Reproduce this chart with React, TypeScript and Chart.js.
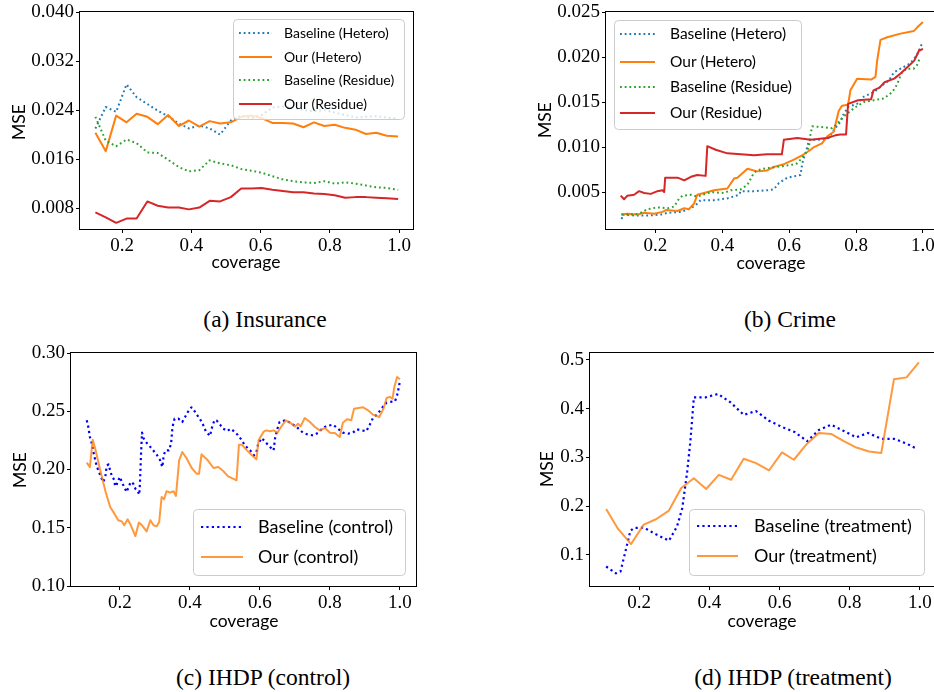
import React, { useEffect, useRef } from 'react';
import { Chart, registerables } from 'chart.js';
Chart.register(...registerables);

// ---------------- (a) Insurance ----------------
const aCoverage = [0.123, 0.153, 0.183, 0.213, 0.242, 0.273, 0.303, 0.333, 0.364, 0.393, 0.423, 0.453, 0.483, 0.514, 0.544, 0.573, 0.603, 0.634, 0.664, 0.694, 0.724, 0.754, 0.784, 0.814, 0.844, 0.874, 0.904, 0.934, 0.964, 0.997];
const aBaselineHetero = [0.0210, 0.0245, 0.0237, 0.0282, 0.0261, 0.0250, 0.0239, 0.0230, 0.0218, 0.0210, 0.0215, 0.0210, 0.0200, 0.0223, 0.0231, 0.0227, 0.0232, 0.0244, 0.0246, 0.0244, 0.0240, 0.0238, 0.0240, 0.0236, 0.0232, 0.0228, 0.0229, 0.0230, 0.0228, 0.0226];
const aOurHetero = [0.0203, 0.0173, 0.0231, 0.0220, 0.0234, 0.0229, 0.0217, 0.0232, 0.0214, 0.0223, 0.0213, 0.0222, 0.0218, 0.0220, 0.0229, 0.0231, 0.0227, 0.0219, 0.0219, 0.0218, 0.0212, 0.0220, 0.0214, 0.0216, 0.0211, 0.0208, 0.0201, 0.0203, 0.0198, 0.0197];
const aBaselineResidue = [0.0229, 0.0190, 0.0181, 0.0192, 0.0186, 0.0171, 0.0170, 0.0159, 0.0147, 0.0140, 0.0142, 0.0158, 0.0153, 0.0150, 0.0144, 0.0141, 0.0138, 0.0132, 0.0127, 0.0124, 0.0122, 0.0121, 0.0124, 0.0120, 0.0122, 0.0120, 0.0117, 0.0114, 0.0113, 0.0110];
const aOurResidue = [0.0073, 0.0065, 0.0056, 0.0063, 0.0063, 0.0091, 0.0084, 0.0081, 0.0081, 0.0078, 0.0081, 0.0092, 0.0091, 0.0098, 0.0112, 0.0112, 0.0113, 0.0110, 0.0108, 0.0106, 0.0106, 0.0104, 0.0103, 0.0101, 0.0097, 0.0098, 0.0098, 0.0097, 0.0096, 0.0095];
const aYTicks = [0.008, 0.016, 0.024, 0.032, 0.040];

// ---------------- (b) Crime ----------------
const bBaselineHeteroX = [0.099, 0.102, 0.136, 0.176, 0.216, 0.236, 0.276, 0.305, 0.325, 0.335, 0.375, 0.415, 0.450, 0.455, 0.495, 0.534, 0.554, 0.569, 0.594, 0.634, 0.639, 0.654, 0.659, 0.684, 0.718, 0.738, 0.753, 0.763, 0.778, 0.803, 0.823, 0.853, 0.873, 0.898, 0.913, 0.933, 0.962, 0.982, 0.997];
const bBaselineHeteroY = [0.0020, 0.0025, 0.0024, 0.0024, 0.0025, 0.0027, 0.0028, 0.0032, 0.0037, 0.0041, 0.0041, 0.0043, 0.0047, 0.0051, 0.0051, 0.0052, 0.0053, 0.0060, 0.0066, 0.0069, 0.0082, 0.0100, 0.0108, 0.0108, 0.0110, 0.0121, 0.0128, 0.0137, 0.0145, 0.0148, 0.0156, 0.0161, 0.0167, 0.0174, 0.0183, 0.0187, 0.0193, 0.0202, 0.0215];
const bOurHeteroX = [0.097, 0.116, 0.146, 0.166, 0.196, 0.221, 0.231, 0.266, 0.286, 0.300, 0.315, 0.325, 0.345, 0.375, 0.415, 0.435, 0.445, 0.475, 0.504, 0.534, 0.554, 0.584, 0.614, 0.644, 0.664, 0.674, 0.698, 0.714, 0.733, 0.748, 0.758, 0.776, 0.783, 0.803, 0.845, 0.858, 0.863, 0.873, 0.893, 0.933, 0.973, 0.983, 1.000];
const bOurHeteroY = [0.0025, 0.0026, 0.0025, 0.0027, 0.0026, 0.0028, 0.0030, 0.0029, 0.0032, 0.0031, 0.0037, 0.0047, 0.0049, 0.0052, 0.0054, 0.0065, 0.0066, 0.0076, 0.0073, 0.0074, 0.0078, 0.0081, 0.0086, 0.0092, 0.0097, 0.0100, 0.0104, 0.0112, 0.0117, 0.0140, 0.0146, 0.0147, 0.0163, 0.0176, 0.0175, 0.0178, 0.0196, 0.0219, 0.0222, 0.0226, 0.0229, 0.0233, 0.0239];
const bBaselineResidueX = [0.099, 0.136, 0.156, 0.176, 0.206, 0.236, 0.256, 0.271, 0.281, 0.305, 0.325, 0.365, 0.405, 0.425, 0.455, 0.475, 0.485, 0.494, 0.504, 0.524, 0.564, 0.604, 0.624, 0.634, 0.649, 0.659, 0.664, 0.669, 0.703, 0.728, 0.738, 0.763, 0.793, 0.823, 0.853, 0.883, 0.908, 0.922, 0.937, 0.952, 0.972, 0.982, 0.992];
const bBaselineResidueY = [0.0025, 0.0025, 0.0027, 0.0031, 0.0033, 0.0032, 0.0034, 0.0043, 0.0046, 0.0047, 0.0045, 0.0050, 0.0049, 0.0052, 0.0053, 0.0058, 0.0065, 0.0071, 0.0074, 0.0076, 0.0078, 0.0080, 0.0082, 0.0086, 0.0093, 0.0100, 0.0115, 0.0123, 0.0122, 0.0121, 0.0124, 0.0134, 0.0143, 0.0150, 0.0152, 0.0154, 0.0161, 0.0169, 0.0183, 0.0187, 0.0187, 0.0191, 0.0200];
const bOurResidueX = [0.096, 0.106, 0.116, 0.136, 0.151, 0.166, 0.186, 0.206, 0.221, 0.226, 0.229, 0.266, 0.286, 0.306, 0.325, 0.350, 0.355, 0.380, 0.415, 0.455, 0.495, 0.534, 0.578, 0.584, 0.624, 0.664, 0.713, 0.738, 0.753, 0.770, 0.776, 0.806, 0.845, 0.852, 0.870, 0.885, 0.914, 0.934, 0.954, 0.974, 0.988, 1.000];
const bOurResidueY = [0.0046, 0.0042, 0.0046, 0.0047, 0.0051, 0.0049, 0.0048, 0.0051, 0.0052, 0.0050, 0.0066, 0.0066, 0.0063, 0.0067, 0.0069, 0.0068, 0.0101, 0.0097, 0.0093, 0.0092, 0.0091, 0.0092, 0.0092, 0.0108, 0.0110, 0.0108, 0.0110, 0.0113, 0.0114, 0.0114, 0.0148, 0.0152, 0.0153, 0.0163, 0.0166, 0.0172, 0.0176, 0.0182, 0.0189, 0.0196, 0.0207, 0.0209];
const bYTicks = [0.005, 0.010, 0.015, 0.020, 0.025];

// ---------------- (c) IHDP (control) ----------------
const cBaselineX = [0.105, 0.109, 0.114, 0.119, 0.126, 0.133, 0.138, 0.145, 0.152, 0.158, 0.162, 0.167, 0.172, 0.176, 0.184, 0.186, 0.190, 0.195, 0.200, 0.205, 0.212, 0.219, 0.225, 0.231, 0.238, 0.244, 0.250, 0.255, 0.257, 0.260, 0.263, 0.267, 0.276, 0.291, 0.305, 0.314, 0.321, 0.325, 0.330, 0.340, 0.346, 0.350, 0.356, 0.367, 0.378, 0.386, 0.394, 0.404, 0.415, 0.424, 0.434, 0.445, 0.457, 0.464, 0.470, 0.476, 0.486, 0.495, 0.507, 0.516, 0.526, 0.536, 0.547, 0.557, 0.572, 0.583, 0.590, 0.595, 0.605, 0.620, 0.629, 0.639, 0.643, 0.650, 0.656, 0.672, 0.686, 0.705, 0.723, 0.738, 0.753, 0.767, 0.776, 0.790, 0.809, 0.823, 0.837, 0.852, 0.866, 0.876, 0.890, 0.904, 0.914, 0.923, 0.937, 0.947, 0.962, 0.971, 0.986, 0.992, 0.997, 1.000];
const cBaselineY = [0.2422, 0.2373, 0.2279, 0.2227, 0.2122, 0.2036, 0.1993, 0.1941, 0.1893, 0.1936, 0.2030, 0.2044, 0.1993, 0.1950, 0.1907, 0.1856, 0.1865, 0.1907, 0.1936, 0.1893, 0.1850, 0.1807, 0.1853, 0.1893, 0.1878, 0.1835, 0.1821, 0.1784, 0.1878, 0.2122, 0.2316, 0.2270, 0.2230, 0.2179, 0.2127, 0.2084, 0.2021, 0.2122, 0.2164, 0.2164, 0.2222, 0.2365, 0.2436, 0.2436, 0.2408, 0.2451, 0.2494, 0.2534, 0.2494, 0.2451, 0.2408, 0.2330, 0.2288, 0.2373, 0.2422, 0.2422, 0.2385, 0.2350, 0.2330, 0.2350, 0.2328, 0.2299, 0.2256, 0.2207, 0.2164, 0.2122, 0.2150, 0.2222, 0.2270, 0.2222, 0.2193, 0.2164, 0.2265, 0.2350, 0.2408, 0.2422, 0.2402, 0.2365, 0.2316, 0.2299, 0.2293, 0.2316, 0.2345, 0.2373, 0.2385, 0.2350, 0.2316, 0.2308, 0.2316, 0.2345, 0.2336, 0.2328, 0.2385, 0.2442, 0.2479, 0.2522, 0.2574, 0.2580, 0.2585, 0.2637, 0.2708, 0.2757];
const cOurX = [0.105, 0.114, 0.122, 0.128, 0.138, 0.147, 0.159, 0.172, 0.184, 0.195, 0.205, 0.212, 0.222, 0.231, 0.244, 0.254, 0.263, 0.276, 0.287, 0.296, 0.305, 0.312, 0.319, 0.326, 0.333, 0.343, 0.353, 0.360, 0.369, 0.378, 0.391, 0.405, 0.419, 0.426, 0.433, 0.451, 0.467, 0.481, 0.495, 0.509, 0.523, 0.533, 0.540, 0.548, 0.563, 0.577, 0.590, 0.596, 0.610, 0.618, 0.629, 0.639, 0.650, 0.662, 0.674, 0.686, 0.700, 0.709, 0.716, 0.728, 0.743, 0.757, 0.771, 0.786, 0.800, 0.814, 0.828, 0.837, 0.849, 0.861, 0.869, 0.881, 0.895, 0.909, 0.923, 0.941, 0.953, 0.962, 0.971, 0.979, 0.984, 0.992, 1.000];
const cOurY = [0.2059, 0.2021, 0.2256, 0.2193, 0.2064, 0.1950, 0.1807, 0.1678, 0.1621, 0.1564, 0.1555, 0.1521, 0.1572, 0.1521, 0.1429, 0.1544, 0.1521, 0.1469, 0.1564, 0.1521, 0.1512, 0.1549, 0.1764, 0.1744, 0.1813, 0.1801, 0.1813, 0.1773, 0.2079, 0.2150, 0.2093, 0.2013, 0.1964, 0.1964, 0.2130, 0.2079, 0.2013, 0.2021, 0.1987, 0.1941, 0.1921, 0.1907, 0.2213, 0.2213, 0.2164, 0.2122, 0.2087, 0.2250, 0.2322, 0.2336, 0.2328, 0.2336, 0.2316, 0.2373, 0.2422, 0.2402, 0.2370, 0.2393, 0.2370, 0.2442, 0.2408, 0.2365, 0.2336, 0.2356, 0.2316, 0.2313, 0.2279, 0.2402, 0.2431, 0.2422, 0.2522, 0.2528, 0.2534, 0.2508, 0.2471, 0.2451, 0.2522, 0.2614, 0.2623, 0.2608, 0.2708, 0.2794, 0.2774];
const cYTicks = [0.10, 0.15, 0.20, 0.25, 0.30];

// ---------------- (d) IHDP (treatment) ----------------
const dBaselineX = [0.106, 0.134, 0.147, 0.161, 0.175, 0.185, 0.213, 0.248, 0.285, 0.308, 0.323, 0.337, 0.346, 0.356, 0.389, 0.425, 0.460, 0.498, 0.533, 0.570, 0.608, 0.643, 0.679, 0.712, 0.747, 0.783, 0.819, 0.852, 0.890, 0.926, 0.959, 0.990];
const dBaselineY = [0.076, 0.062, 0.066, 0.107, 0.149, 0.155, 0.156, 0.142, 0.129, 0.158, 0.196, 0.271, 0.333, 0.423, 0.423, 0.430, 0.413, 0.387, 0.395, 0.375, 0.362, 0.352, 0.333, 0.356, 0.367, 0.354, 0.341, 0.350, 0.338, 0.338, 0.329, 0.318];
const dOurX = [0.106, 0.140, 0.177, 0.213, 0.248, 0.284, 0.320, 0.356, 0.391, 0.427, 0.462, 0.498, 0.533, 0.570, 0.607, 0.641, 0.677, 0.712, 0.747, 0.783, 0.819, 0.855, 0.890, 0.926, 0.962, 0.997];
const dOurY = [0.194, 0.153, 0.122, 0.162, 0.173, 0.190, 0.237, 0.257, 0.235, 0.264, 0.254, 0.297, 0.288, 0.273, 0.310, 0.295, 0.327, 0.350, 0.348, 0.333, 0.320, 0.312, 0.309, 0.460, 0.464, 0.495];
const dYTicks = [0.1, 0.2, 0.3, 0.4, 0.5];

const xTicks = [0.2, 0.4, 0.6, 0.8, 1.0];

const SANS = 'Lato, "DejaVu Sans", sans-serif';
const SERIF = '"Liberation Serif", "DejaVu Serif", serif';

const TAB_BLUE = '#1f77b4';
const TAB_ORANGE = '#ff7f0e';
const TAB_GREEN = '#2ca02c';
const TAB_RED = '#d62728';
const PURE_BLUE = '#0000ff';
const SOFT_ORANGE = 'rgba(255,127,14,0.8)';

const DOT_S = [1.8, 2.9];
const DOT_L = [2.2, 3.2];

const panels = [
  {
    key: 'a',
    frame: { left: 0, top: 0, width: 430, height: 285 },
    area: { l: 80, t: 12, r: 413, b: 229 },
    x: [0.0786, 1.04], y: [0.0046, 0.040], yTicks: aYTicks, yDec: 3,
    series: [
      { label: 'Baseline (Hetero)', xs: aCoverage, ys: aBaselineHetero, color: TAB_BLUE, width: 2, dash: DOT_S },
      { label: 'Our (Hetero)', xs: aCoverage, ys: aOurHetero, color: TAB_ORANGE, width: 2, dash: [] },
      { label: 'Baseline (Residue)', xs: aCoverage, ys: aBaselineResidue, color: TAB_GREEN, width: 2, dash: DOT_S },
      { label: 'Our (Residue)', xs: aCoverage, ys: aOurResidue, color: TAB_RED, width: 2, dash: [] },
    ],
    legend: { box: [233, 19, 404, 119], ys: [33, 57, 80, 104], h: [239, 272], tx: 284, size: 14 },
    yTitle: [19, 122], xTitle: [246, 262], titleSize: 17.5,
  },
  {
    key: 'b',
    frame: { left: 526, top: 0, width: 420, height: 285 },
    area: { l: 606, t: 12, r: 938, b: 229 },
    x: [0.052, 1.045], y: [0.0009, 0.0250], yTicks: bYTicks, yDec: 3,
    series: [
      { label: 'Baseline (Hetero)', xs: bBaselineHeteroX, ys: bBaselineHeteroY, color: TAB_BLUE, width: 2, dash: DOT_S },
      { label: 'Our (Hetero)', xs: bOurHeteroX, ys: bOurHeteroY, color: TAB_ORANGE, width: 2, dash: [] },
      { label: 'Baseline (Residue)', xs: bBaselineResidueX, ys: bBaselineResidueY, color: TAB_GREEN, width: 2, dash: DOT_S },
      { label: 'Our (Residue)', xs: bOurResidueX, ys: bOurResidueY, color: TAB_RED, width: 2, dash: [] },
    ],
    legend: { box: [614, 20, 801, 129], ys: [34, 62, 87, 113], h: [620, 655], tx: 670, size: 15.5 },
    yTitle: [545, 120], xTitle: [771, 263], titleSize: 17.5,
  },
  {
    key: 'c',
    frame: { left: 0, top: 340, width: 430, height: 300 },
    area: { l: 71, t: 353, r: 416, b: 586 },
    x: [0.06, 1.046], y: [0.10, 0.30], yTicks: cYTicks, yDec: 2,
    series: [
      { label: 'Baseline (control)', xs: cBaselineX, ys: cBaselineY, color: PURE_BLUE, width: 2.2, dash: DOT_L },
      { label: 'Our (control)', xs: cOurX, ys: cOurY, color: SOFT_ORANGE, width: 2, dash: [] },
    ],
    legend: { box: [193, 509, 405, 575], ys: [527, 557], h: [201, 243], tx: 258, size: 18 },
    yTitle: [20, 470], xTitle: [244, 621], titleSize: 17.5,
  },
  {
    key: 'd',
    frame: { left: 526, top: 340, width: 420, height: 300 },
    area: { l: 590, t: 353, r: 935, b: 586 },
    x: [0.06, 1.043], y: [0.036, 0.514], yTicks: dYTicks, yDec: 1,
    series: [
      { label: 'Baseline (treatment)', xs: dBaselineX, ys: dBaselineY, color: PURE_BLUE, width: 2.2, dash: DOT_L },
      { label: 'Our (treatment)', xs: dOurX, ys: dOurY, color: SOFT_ORANGE, width: 2, dash: [] },
    ],
    legend: { box: [689, 509, 924, 575], ys: [526, 556], h: [697, 738], tx: 754, size: 18 },
    yTitle: [547, 469], xTitle: [762, 621], titleSize: 17.5,
  },
];

const captions = [
  { text: '(a) Insurance', cx: 265, cy: 319 },
  { text: '(b) Crime', cx: 790, cy: 319 },
  { text: '(c) IHDP (control)', cx: 263, cy: 677 },
  { text: '(d) IHDP (treatment)', cx: 793, cy: 677 },
];

function decorPlugin(cfg: any) {
  return {
    id: 'decor_' + cfg.key,
    afterDatasetsDraw(chart: any) {
      const ctx = chart.ctx;
      const ox = cfg.frame.left;
      const oy = cfg.frame.top;
      const ca = chart.chartArea;
      ctx.save();
      // legend
      const L = cfg.legend;
      const bx = L.box[0] - ox + 0.5, by = L.box[1] - oy + 0.5;
      const bw = L.box[2] - L.box[0], bh = L.box[3] - L.box[1];
      ctx.beginPath();
      if (ctx.roundRect) ctx.roundRect(bx, by, bw, bh, 4);
      else ctx.rect(bx, by, bw, bh);
      ctx.fillStyle = 'rgba(255,255,255,0.8)';
      ctx.fill();
      ctx.strokeStyle = '#cccccc';
      ctx.lineWidth = 1;
      ctx.stroke();
      cfg.series.forEach((s: any, i: number) => {
        const yy = L.ys[i] - oy;
        ctx.beginPath();
        ctx.setLineDash(s.dash);
        ctx.strokeStyle = s.color;
        ctx.lineWidth = s.width;
        ctx.lineCap = 'butt';
        ctx.moveTo(L.h[0] - ox, yy);
        ctx.lineTo(L.h[1] - ox, yy);
        ctx.stroke();
        ctx.setLineDash([]);
        ctx.fillStyle = '#000';
        ctx.font = `${L.size}px ${SANS}`;
        ctx.textAlign = 'left';
        ctx.textBaseline = 'middle';
        ctx.fillText(s.label, L.tx - ox, yy);
      });
      // frame (spines)
      ctx.setLineDash([]);
      ctx.strokeStyle = '#000';
      ctx.lineWidth = 1;
      const l = Math.round(ca.left) - 0.5, t = Math.round(ca.top) - 0.5;
      const r = Math.round(ca.right) + 0.5, b = Math.round(ca.bottom) + 0.5;
      ctx.strokeRect(l, t, r - l, b - t);
      // axis titles
      ctx.fillStyle = '#000';
      ctx.font = `${cfg.titleSize}px ${SANS}`;
      ctx.textAlign = 'center';
      ctx.textBaseline = 'middle';
      ctx.fillText('coverage', cfg.xTitle[0] - ox, cfg.xTitle[1] - oy);
      ctx.translate(cfg.yTitle[0] - ox, cfg.yTitle[1] - oy);
      ctx.rotate(-Math.PI / 2);
      ctx.fillText('MSE', 0, 0);
      ctx.restore();
    },
  };
}

function Panel({ cfg }: { cfg: any }) {
  const ref = useRef<HTMLCanvasElement>(null);
  useEffect(() => {
    const canvas = ref.current as HTMLCanvasElement;
    const f = cfg.frame;
    const A = cfg.area;
    const tickFont = { family: SERIF, size: 19 };
    const chart = new Chart(canvas, {
      type: 'line',
      data: {
        datasets: cfg.series.map((s: any, i: number) => ({
          label: s.label,
          data: s.xs.map((x: number, k: number) => ({ x, y: s.ys[k] })),
          borderColor: s.color,
          backgroundColor: s.color,
          borderWidth: s.width,
          borderDash: s.dash,
          borderCapStyle: 'butt',
          borderJoinStyle: 'round',
          pointRadius: 0,
          pointHoverRadius: 0,
          fill: false,
          tension: 0,
          order: -i,
        })),
      },
      options: {
        responsive: false,
        animation: false,
        devicePixelRatio: 1,
        events: [],
        layout: {
          autoPadding: false,
          padding: { top: A.t - f.top, right: f.left + f.width - A.r, left: 0, bottom: 0 },
        },
        plugins: { legend: { display: false }, tooltip: { enabled: false }, title: { display: false } },
        scales: {
          x: {
            type: 'linear',
            min: cfg.x[0],
            max: cfg.x[1],
            afterBuildTicks: (sc: any) => { sc.ticks = xTicks.map((v) => ({ value: v })); },
            afterFit: (sc: any) => { sc.height = f.top + f.height - A.b; sc.paddingLeft = 0; sc.paddingRight = 0; },
            grid: { drawOnChartArea: false, drawTicks: true, tickLength: 4, color: '#000', lineWidth: 1 },
            border: { display: false },
            ticks: { font: tickFont, color: '#000', padding: 2, maxRotation: 0, autoSkip: false, callback: (v: any) => Number(v).toFixed(1) },
          },
          y: {
            type: 'linear',
            min: cfg.y[0],
            max: cfg.y[1],
            afterBuildTicks: (sc: any) => { sc.ticks = cfg.yTicks.map((v: number) => ({ value: v })); },
            afterFit: (sc: any) => { sc.width = A.l - f.left; sc.paddingTop = 0; sc.paddingBottom = 0; },
            grid: { drawOnChartArea: false, drawTicks: true, tickLength: 4, color: '#000', lineWidth: 1 },
            border: { display: false },
            ticks: { font: tickFont, color: '#000', padding: 2, autoSkip: false, callback: (v: any) => Number(v).toFixed(cfg.yDec) },
          },
        },
      },
      plugins: [decorPlugin(cfg)],
    } as any);
    return () => chart.destroy();
  }, [cfg]);
  return (
    <canvas
      ref={ref}
      width={cfg.frame.width}
      height={cfg.frame.height}
      style={{ position: 'absolute', left: cfg.frame.left, top: cfg.frame.top, width: cfg.frame.width, height: cfg.frame.height }}
    />
  );
}

export default function App() {
  return (
    <div style={{ position: 'absolute', left: 0, top: 0, width: 934, height: 692, overflow: 'hidden', background: '#fff' }}>
      {panels.map((p) => (
        <Panel key={p.key} cfg={p} />
      ))}
      {captions.map((c) => (
        <div
          key={c.text}
          style={{
            position: 'absolute', left: c.cx - 200, width: 400, top: c.cy - 14, height: 28, lineHeight: '28px',
            textAlign: 'center', fontFamily: SERIF, fontSize: 23.5, color: '#000', whiteSpace: 'nowrap',
          }}
        >
          {c.text}
        </div>
      ))}
    </div>
  );
}
